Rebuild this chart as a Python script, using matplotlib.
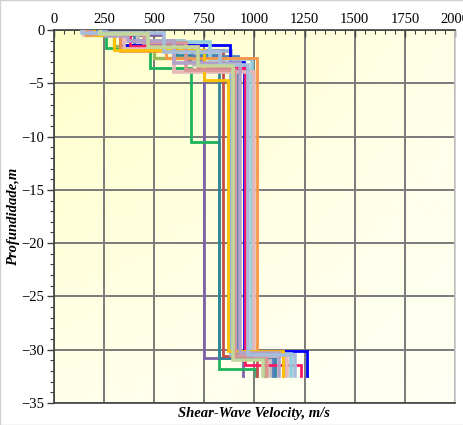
import numpy as np
import matplotlib
matplotlib.use('Agg')
import matplotlib.pyplot as plt
from matplotlib.ticker import MultipleLocator

# layer velocities (m/s) and layer bottom depths (m) for each Vs profile
p01_vs = [160, 545, 660, 747, 945]
p01_z = [0.45, 1.3, 2.9, 30.8, 32.5]
p02_vs = [200, 257, 480, 684, 825, 1005]
p02_z = [0.5, 1.65, 3.6, 10.5, 31.8, 32.5]
p03_vs = [180, 420, 610, 824, 1100]
p03_z = [0.4, 1.3, 2.3, 30.8, 32.5]
p04_vs = [170, 330, 560, 844, 1010]
p04_z = [0.4, 1.4, 1.9, 30.6, 32.5]
p05_vs = [190, 380, 650, 884, 1150]
p05_z = [0.3, 1.0, 2.0, 30.5, 32.5]
p06_vs = [160, 300, 500, 900, 1050]
p06_z = [0.5, 1.5, 2.6, 30.3, 32.5]
p07_vs = [220, 420, 700, 913, 1080]
p07_z = [0.3, 1.2, 3.3, 30.4, 32.5]
p08_vs = [180, 330, 880, 946, 1263]
p08_z = [0.4, 1.4, 3.0, 30.1, 32.5]
p09_vs = [200, 380, 720, 953, 1230]
p09_z = [0.4, 1.5, 3.6, 31.4, 32.5]
p10_vs = [240, 460, 780, 987, 1180]
p10_z = [0.35, 1.1, 2.7, 30.4, 32.5]
p11_vs = [150, 350, 600, 997, 1160]
p11_z = [0.5, 1.8, 3.9, 30.6, 32.5]
p12_vs = [160, 330, 560, 1013, 1140]
p12_z = [0.5, 2.0, 2.6, 30.2, 32.5]
p13_vs = [200, 300, 750, 870, 1143]
p13_z = [0.5, 1.9, 4.7, 30.1, 32.5]
p14_vs = [180, 450, 660, 905, 1060]
p14_z = [0.4, 1.2, 3.8, 30.6, 32.5]
p15_vs = [260, 370, 600, 930, 1120]
p15_z = [0.6, 1.0, 3.1, 30.3, 32.5]
p16_vs = [140, 550, 830, 970, 1200]
p16_z = [0.3, 2.1, 3.3, 30.5, 32.5]
p17_vs = [230, 470, 720, 895, 1040]
p17_z = [0.35, 1.6, 3.4, 31.0, 32.5]
p18_vs = [210, 400, 690, 920, 1090]
p18_z = [0.45, 1.4, 2.4, 30.7, 32.5]

profiles = [
    (p01_vs, p01_z, '#7F63A8', 2.0),
    (p02_vs, p02_z, '#1DB35A', 2.0),
    (p03_vs, p03_z, '#31859C', 2.0),
    (p04_vs, p04_z, '#C0504D', 2.0),
    (p05_vs, p05_z, '#95B3D7', 2.6),
    (p06_vs, p06_z, '#9BBB59', 2.4),
    (p07_vs, p07_z, '#BFBFBF', 2.6),
    (p18_vs, p18_z, '#4F81BD', 2.0),
    (p08_vs, p08_z, '#0000FF', 2.0),
    (p09_vs, p09_z, '#FF1A66', 2.0),
    (p10_vs, p10_z, '#93CDDD', 2.6),
    (p11_vs, p11_z, '#E6B9B8', 2.6),
    (p12_vs, p12_z, '#F79646', 2.0),
    (p13_vs, p13_z, '#FFC000', 2.0),
    (p14_vs, p14_z, '#D99694', 2.6),
    (p15_vs, p15_z, '#B3A2C7', 2.6),
    (p16_vs, p16_z, '#A6BDDB', 2.6),
    (p17_vs, p17_z, '#C3D69B', 2.6),
]

x_ticks = [0, 250, 500, 750, 1000, 1250, 1500, 1750, 2000]
y_ticks = [0, -5, -10, -15, -20, -25, -30, -35]

fig = plt.figure(figsize=(4.64, 4.25), dpi=100)
ax = fig.add_axes([54 / 464, 1 - 403 / 425, 401 / 464, 373 / 425])

# pale yellow gradient background
c_tl = np.array([255, 255, 200]) / 255
c_tr = np.array([255, 255, 232]) / 255
c_bl = np.array([255, 255, 234]) / 255
c_br = np.array([255, 255, 244]) / 255
u = np.linspace(0, 1, 100)
U, V = np.meshgrid(u, u)
grad = (c_tl * ((1 - U) * (1 - V))[..., None] + c_tr * (U * (1 - V))[..., None]
        + c_bl * ((1 - U) * V)[..., None] + c_br * (U * V)[..., None])
ax.imshow(grad, extent=[0, 1, 0, 1], transform=ax.transAxes, aspect='auto', zorder=0)

for vs, z, color, lw in profiles:
    vs = np.asarray(vs)
    z = np.asarray(z)
    tops = np.concatenate([[0], z[:-1]])
    xs = np.repeat(vs, 2)
    ys = -np.column_stack([tops, z]).ravel()
    ax.plot(xs, ys, color=color, lw=lw, solid_joinstyle='miter', zorder=3)

ax.set_xlim(0, 2000)
ax.set_ylim(-35, 0)
ax.set_xticks(x_ticks)
ax.set_yticks(y_ticks)
ax.xaxis.set_minor_locator(MultipleLocator(50))
ax.yaxis.set_minor_locator(MultipleLocator(1))
ax.xaxis.tick_top()
ax.tick_params(axis='both', which='major', length=5, width=1, labelsize=10.5, color='#404040')
ax.tick_params(axis='both', which='minor', length=3, width=0.8, color='#404040')
ax.tick_params(axis='x', which='both', direction='in', pad=3)
ax.tick_params(axis='y', which='both', direction='out', pad=2)
for lab in ax.get_xticklabels() + ax.get_yticklabels():
    lab.set_family('Liberation Serif')

ax.grid(True, which='major', color='#7A7A7A', lw=1.4, zorder=1)
ax.set_axisbelow(True)

for side in ['left', 'top', 'bottom']:
    ax.spines[side].set_color('#404040')
    ax.spines[side].set_linewidth(1.2)
ax.spines['right'].set_color('#C8C8C8')
ax.spines['right'].set_linewidth(1.2)

ax.set_xlabel('Shear-Wave Velocity, m/s', family='Liberation Serif', fontweight='bold',
              fontstyle='italic', fontsize=10.5, labelpad=3)
ax.xaxis.set_label_position('bottom')
ax.set_ylabel('Profundidade,m', family='Liberation Serif', fontweight='bold',
              fontstyle='italic', fontsize=10.5, va='center')
ax.yaxis.set_label_coords(-0.1, 0.5)

fig.patches.append(plt.Rectangle((0, 0), 1, 1, transform=fig.transFigure, fill=False,
                                 edgecolor='#D0D0D0', lw=1))

fig.savefig('out.png', dpi=100)
